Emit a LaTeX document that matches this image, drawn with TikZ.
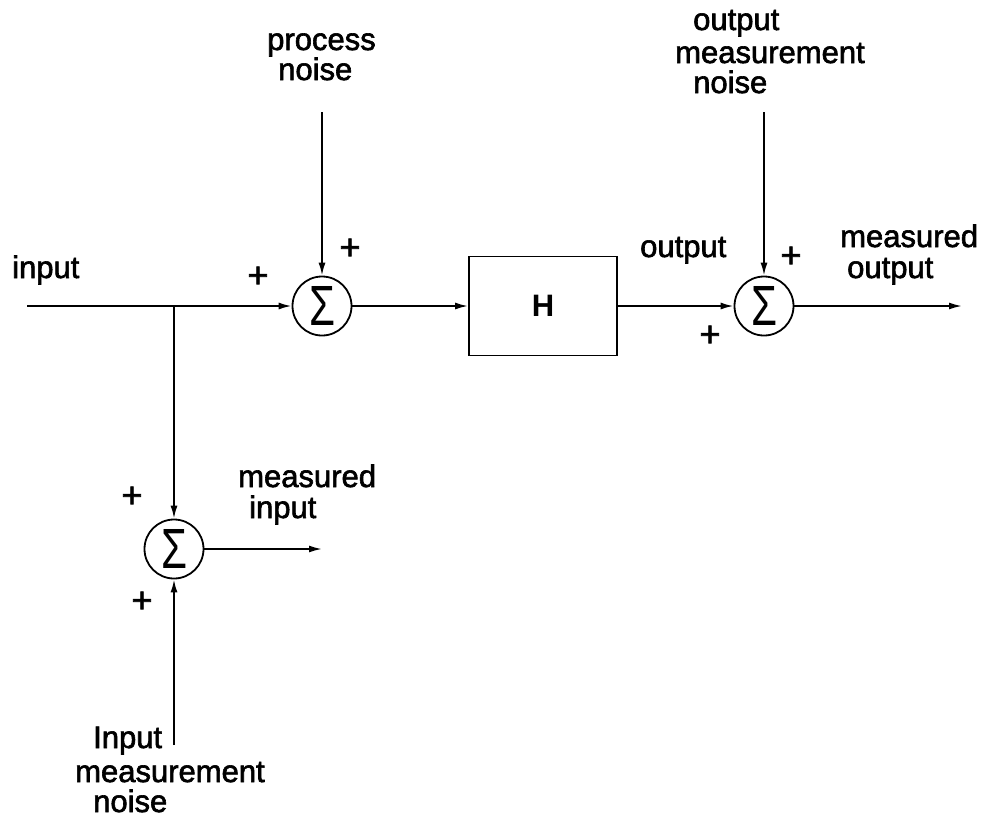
\documentclass[tikz,border=0pt]{standalone}
\usepackage{graphicx}
\usepackage{fontspec}
\setmainfont{Liberation Sans}
\newfontface\lblfont{Liberation Sans}[FakeBold=2]
\usetikzlibrary{arrows.meta}
\newcommand\sigsym{\resizebox{26pt}{39pt}{\fontsize{20}{20}\selectfont Σ}}
\begin{document}
\begin{tikzpicture}[x=1pt,y=-1pt,
  lbl/.style={inner sep=0pt, anchor=base west, font=\lblfont\fontsize{31}{31}\selectfont},
  pluslbl/.style={inner sep=0pt, anchor=center, font=\lblfont\fontsize{36}{36}\selectfont},
  sumnode/.style={circle, draw, line width=1.8pt, minimum size=59pt, inner sep=0pt},
  conn/.style={line width=1.8pt, -{Latex[length=13pt,width=7pt]}},
  blk/.style={draw, line width=1.8pt, minimum width=148pt, minimum height=99pt, inner sep=0pt, font=\bfseries\fontsize{31}{31}\selectfont}
]
\useasboundingbox (0,0) rectangle (985,817);

% blocks
\node[sumnode] (s1) at (322,306) {\sigsym};
\node[sumnode] (s2) at (764,306) {\sigsym};
\node[sumnode] (s3) at (174,549) {\sigsym};
\node[blk] (H) at (543,306) {H};

% free ends
\coordinate (in) at (27,306);
\coordinate (j) at (174,306);
\coordinate (mo) at (962,306);
\coordinate (pn) at (322,112);
\coordinate (on) at (764,112);
\coordinate (mi) at (322,549);
\coordinate (imn) at (174,745);

% connectors
\draw[conn] (in) -- (s1.west);
\draw[conn] (s1.east) -- (H.west);
\draw[conn] (H.east) -- (s2.west);
\draw[conn] (s2.east) -- (mo);
\draw[conn] (pn) -- (s1.north);
\draw[conn] (on) -- (s2.north);
\draw[conn] (j) -- (s3.north);
\draw[conn] (s3.east) -- (mi);
\draw[conn] (imn) -- (s3.south);

% labels
\node[lbl] (tin) at (12,278) {input};
\node[lbl] (tp1) at (267,50) {process};
\node[lbl] (tp2) at (278,80) {noise};
\node[lbl] (to1) at (693,30) {output};
\node[lbl] (to2) at (675,63) {measurement};
\node[lbl] (to3) at (693,93) {noise};
\node[lbl] (tout) at (640,257) {output};
\node[lbl] (tmo1) at (840,247) {measured};
\node[lbl] (tmo2) at (847,278) {output};
\node[lbl] (tmi1) at (238,487) {measured};
\node[lbl] (tmi2) at (249,518) {input};
\node[lbl] (ti1) at (93,748) {Input};
\node[lbl] (ti2) at (75,782) {measurement};
\node[lbl] (ti3) at (93,812) {noise};

% plus signs
\node[pluslbl] (p1) at (258,277) {+};
\node[pluslbl] (p2) at (350,249) {+};
\node[pluslbl] (p3) at (791,257) {+};
\node[pluslbl] (p4) at (710,336) {+};
\node[pluslbl] (p5) at (132,497) {+};
\node[pluslbl] (p6) at (142,602) {+};
\end{tikzpicture}
\end{document}
